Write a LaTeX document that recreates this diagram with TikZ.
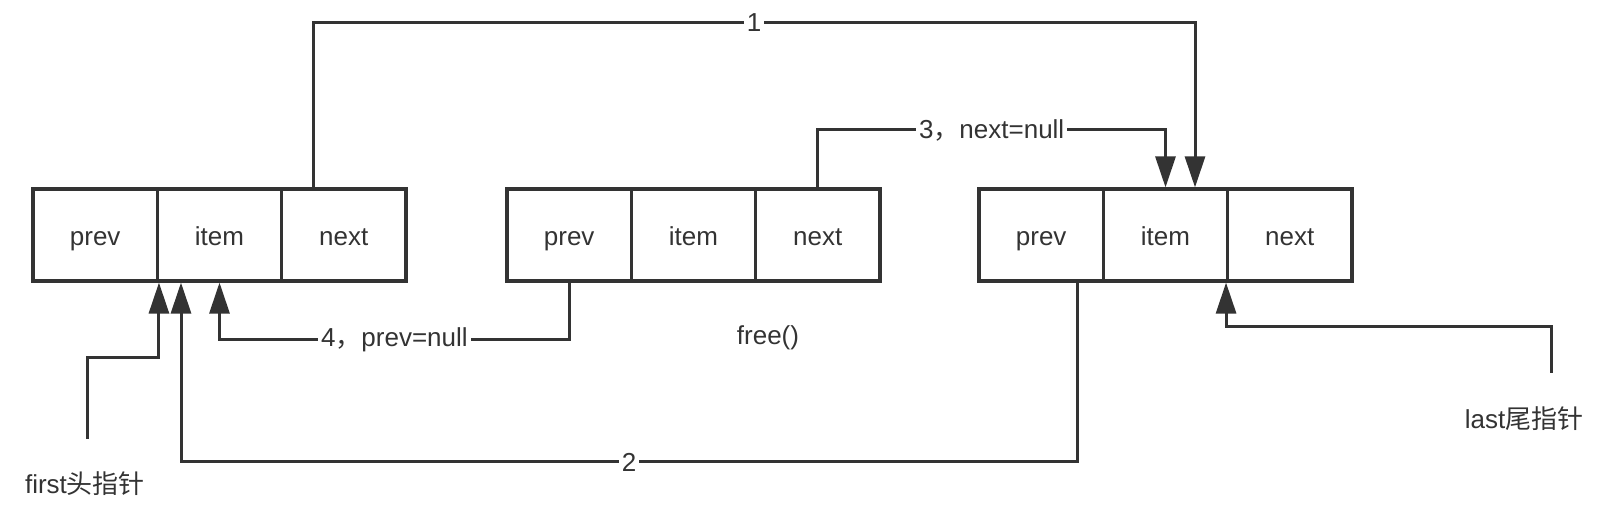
\documentclass[tikz,border=0pt]{standalone}
\usepackage{fontspec}
\setmainfont{Liberation Sans}
\newfontfamily\cjk{Noto Sans CJK SC}
\usetikzlibrary{arrows.meta,calc}
\definecolor{ink}{HTML}{333333}
\begin{document}
\begin{tikzpicture}[x=0.5pt,y=-0.5pt,
  cell/.style={draw=ink,line width=1.6pt,minimum width=62.15pt,minimum height=46pt,inner sep=0pt,text height=12pt,text depth=1.5pt,text=ink,font=\fontsize{13}{15}\selectfont},
  conn/.style={draw=ink,line width=1.5pt,-{Triangle[length=15.5pt,width=10pt]}},
  lbl/.style={fill=white,inner sep=1.5pt,text=ink,font=\fontsize{13}{15}\selectfont},
  txt/.style={text=ink,font=\fontsize{13}{15}\selectfont,inner sep=0pt}]
\useasboundingbox (0,0) rectangle (1602,522);
% box 1
\node[cell] (a1) at (95.2,235) {prev};
\node[cell] (a2) at (219.5,235) {item};
\node[cell] (a3) at (343.8,235) {next};
% box 2
\node[cell] (b1) at (569.2,235) {prev};
\node[cell] (b2) at (693.5,235) {item};
\node[cell] (b3) at (817.8,235) {next};
% box 3
\node[cell] (c1) at (1041.2,235) {prev};
\node[cell] (c2) at (1165.5,235) {item};
\node[cell] (c3) at (1289.8,235) {next};
% texts
\node[txt] (free) at (768,338) {free()};
\node[txt] (first) at (85,484) {first{\cjk 头指针}};
\node[txt] (last) at (1524,419) {last{\cjk 尾指针}};
% coordinates
\coordinate (p1) at (313,23);
\coordinate (q1) at (1195,23);
\coordinate (k3) at (0,130);
\coordinate (k4) at (0,340);
\coordinate (s2) at (1077,462);
\coordinate (e2) at (181,462);
\coordinate (f0) at (87,439);
\coordinate (f1) at (87,358);
\coordinate (l0) at (1551,373);
\coordinate (l1) at (1551,327);
% connector 1
\draw[conn] (a3.north -| p1) -- (p1) -- node[lbl]{1} (q1) -- (q1 |- c2.north);
% connector 3
\draw[conn] (b3.north) -- (b3.north |- k3) -- node[lbl]{3{\cjk ，}next=null} (c2.north |- k3) -- (c2.north);
% connector 4
\draw[conn] (b1.south) -- (b1.south |- k4) -- node[lbl]{4{\cjk ，}prev=null} (a2.south |- k4) -- (a2.south);
% connector 2
\draw[conn] (c1.south -| s2) -- (s2) -- node[lbl]{2} (e2) -- (e2 |- a2.south);
% first pointer
\draw[conn] (f0) -- (f1) -- (f1 -| a1.south east) -- (a1.south east);
% last pointer
\draw[conn] (l0) -- (l1) -- (l1 -| c3.south west) -- (c3.south west);
\end{tikzpicture}
\end{document}
